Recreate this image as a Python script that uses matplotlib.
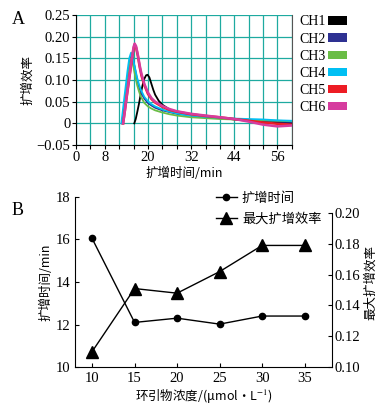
import matplotlib
matplotlib.use('Agg')
import matplotlib.pyplot as plt
from matplotlib.patches import Patch

plt.rcParams['font.family'] = ['Liberation Serif', 'Noto Sans CJK SC']
plt.rcParams['mathtext.fontset'] = 'stix'
cjk = ['Noto Sans CJK SC', 'Liberation Serif']

# panel A: amplification curves
names = ['CH1', 'CH2', 'CH3', 'CH4', 'CH5', 'CH6']
colors = ['#000000', '#2e3192', '#6abd45', '#00bff3', '#ed1c24', '#d63c9e']

t1 = [16.2, 16.6, 17, 17.5, 18, 18.5, 19, 19.5, 19.9, 20.4, 21, 21.5, 22, 23, 24, 26, 28, 30, 32, 36, 40, 44, 48, 52, 56, 60]
v1 = [0, 0.01, 0.025, 0.045, 0.068, 0.088, 0.103, 0.111, 0.112, 0.106, 0.09, 0.077, 0.066, 0.052, 0.043, 0.032,
      0.026, 0.022, 0.019, 0.015, 0.012, 0.009, 0.007, 0.004, 0.002, 0.001]
t2 = [12.8, 13.5, 14, 14.5, 15, 15.4, 15.8, 16.3, 17, 17.5, 18, 19, 20, 21, 22, 24, 26, 28, 30, 32, 36, 40, 44, 48, 52, 56, 60]
v2 = [0, 0.045, 0.08, 0.115, 0.145, 0.157, 0.15, 0.13, 0.1, 0.085, 0.072, 0.057, 0.047, 0.041, 0.036, 0.03,
      0.026, 0.022, 0.02, 0.018, 0.015, 0.012, 0.01, 0.008, 0.006, 0.004, 0.003]
t3 = [12.8, 13.5, 14, 14.5, 15, 15.3, 15.7, 16.2, 17, 17.5, 18, 19, 20, 21, 22, 24, 26, 28, 30, 32, 36, 40, 44, 48, 52, 56, 60]
v3 = [0, 0.042, 0.075, 0.11, 0.14, 0.15, 0.142, 0.12, 0.088, 0.074, 0.062, 0.047, 0.039, 0.034, 0.03, 0.025,
      0.021, 0.018, 0.016, 0.014, 0.012, 0.01, 0.009, 0.008, 0.007, 0.006, 0.005]
t4 = [12.6, 13.3, 13.8, 14.3, 14.8, 15.3, 15.7, 16.2, 17, 17.5, 18, 19, 20, 21, 22, 24, 26, 28, 30, 32, 36, 40, 44, 48, 52, 56, 60]
v4 = [0, 0.05, 0.085, 0.12, 0.15, 0.163, 0.155, 0.135, 0.105, 0.09, 0.078, 0.061, 0.051, 0.044, 0.039, 0.032,
      0.027, 0.023, 0.02, 0.018, 0.015, 0.013, 0.011, 0.01, 0.009, 0.007, 0.006]
t5 = [13.1, 13.6, 14, 14.5, 15, 15.5, 16, 16.3, 16.7, 17.2, 17.7, 18.2, 19, 20, 21, 22, 24, 26, 28, 30, 32, 36, 40, 44, 48, 52, 56, 60]
v5 = [0, 0.03, 0.055, 0.085, 0.115, 0.145, 0.172, 0.182, 0.175, 0.155, 0.13, 0.11, 0.088, 0.068, 0.056, 0.048,
      0.038, 0.031, 0.027, 0.024, 0.021, 0.017, 0.014, 0.01, 0.006, 0.002, -0.001, -0.003]
t6 = t5
v6 = [0, 0.03, 0.057, 0.088, 0.118, 0.148, 0.176, 0.184, 0.178, 0.158, 0.134, 0.114, 0.091, 0.071, 0.058, 0.05,
      0.04, 0.033, 0.028, 0.025, 0.022, 0.018, 0.014, 0.01, 0.004, -0.003, -0.007, -0.005]

xtick_labels_a = {0: '0', 8: '8', 20: '20', 32: '32', 44: '44', 56: '56'}
yticks_a = [-0.05, 0, 0.05, 0.10, 0.15, 0.20, 0.25]
ytick_labels_a = ['\u22120.05', '0', '0.05', '0.10', '0.15', '0.20', '0.25']

# panel B: primer concentration
conc = [10, 15, 20, 25, 30, 35]
amp_time = [16.05, 12.1, 12.3, 12.02, 12.4, 12.4]
max_eff = [0.110, 0.151, 0.148, 0.162, 0.179, 0.179]

fig = plt.figure(figsize=(3.81, 4.12), dpi=100)

ax = fig.add_axes([0.1995, 0.648, 0.5665, 0.3156])
series = [(t1, v1), (t2, v2), (t3, v3), (t4, v4), (t5, v5), (t6, v6)]
for i, (t, v) in enumerate(series):
    lw = 1.8 if i >= 4 else 1.3
    ax.plot(t, v, color=colors[i], lw=lw, zorder=3)
ax.set_xlim(0, 60)
ax.set_ylim(-0.05, 0.25)
ax.set_xticks(range(0, 61, 4))
ax.set_xticklabels([xtick_labels_a.get(x, '') for x in range(0, 61, 4)])
ax.set_yticks(yticks_a)
ax.set_yticklabels(ytick_labels_a)
ax.grid(True, color='#1eaaa0', lw=0.9)
ax.tick_params(labelsize=10.5, length=3, width=0.8, pad=1)
ax.spines['right'].set_color('#555555')
ax.spines['top'].set_visible(False)
ax.set_xlabel('扩增时间/min', family=cjk, fontsize=9, labelpad=2)
ax.set_ylabel('扩增效率', family=cjk, fontsize=9, labelpad=2)
handles = [Patch(facecolor=c, edgecolor='none') for c in colors]
ax.legend(handles, names, loc='upper left', bbox_to_anchor=(1.01, 1.04), frameon=False,
          markerfirst=False, fontsize=10, handlelength=1.4, handleheight=0.55,
          handletextpad=0.15, labelspacing=0.3, borderaxespad=0)
fig.text(0.03, 0.953, 'A', fontsize=13, va='center')

bx = fig.add_axes([0.197, 0.109, 0.674, 0.413])
l1, = bx.plot(conc, amp_time, color='black', lw=1, marker='o', ms=4.5)
bx.set_xlim(8, 38.2)
bx.set_ylim(10, 18)
bx.set_xticks(conc)
bx.set_yticks([10, 12, 14, 16, 18])
bx.spines['top'].set_visible(False)
bx.spines['right'].set_visible(False)
bx.tick_params(direction='in', labelsize=10.5, length=3, width=0.8)
bx.set_xlabel('环引物浓度/(μmol·L$^{-1}$)', family=cjk, fontsize=9, labelpad=2)
bx.set_ylabel('扩增时间/min', family=cjk, fontsize=9, labelpad=2)

bx2 = bx.twinx()
l2, = bx2.plot(conc, max_eff, color='black', lw=1, marker='^', ms=8)
bx2.set_ylim(0.10, 0.10 + 0.1 * 170.6 / 154.4)
bx2.set_yticks([0.10, 0.12, 0.14, 0.16, 0.18, 0.20])
bx2.spines['top'].set_visible(False)
bx2.spines['left'].set_visible(False)
bx2.spines['bottom'].set_visible(False)
bx2.spines['right'].set_bounds(0.10, 0.20)
bx2.tick_params(direction='in', labelsize=10.5, length=3, width=0.8, pad=2)
bx2.set_ylabel('最大扩增效率', family=cjk, fontsize=9, rotation=90, labelpad=3)

leg = bx.legend([l1, l2], ['扩增时间', '最大扩增效率'], loc='upper right', bbox_to_anchor=(0.98, 1.06),
                frameon=False, prop={'family': cjk, 'size': 9.5}, handlelength=1.6,
                handletextpad=0.4, labelspacing=0.55, borderaxespad=0)
fig.text(0.03, 0.49, 'B', fontsize=13, va='center')

fig.savefig('out.png', dpi=100)
